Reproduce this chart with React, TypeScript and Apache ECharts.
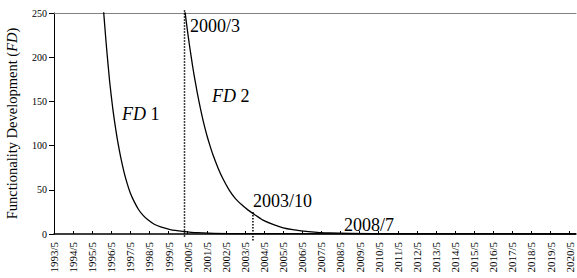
import React, { useEffect, useRef } from "react";
import * as echarts from "echarts";

// x positions are given as "YYYY/M"; the axis counts months from 1993/5
const tickLabels = [
  "1993/5", "1994/5", "1995/5", "1996/5", "1997/5", "1998/5", "1999/5",
  "2000/5", "2001/5", "2002/5", "2003/5", "2004/5", "2005/5", "2006/5",
  "2007/5", "2008/5", "2009/5", "2010/5", "2011/5", "2012/5", "2013/5",
  "2014/5", "2015/5", "2016/5", "2017/5", "2018/5", "2019/5", "2020/5",
];
const axisEnd = "2020/9";

const fd1Dates = [
  "1995/11", "1995/12", "1996/1", "1996/2", "1996/3", "1996/4", "1996/5",
  "1996/6", "1996/7", "1996/8", "1996/9", "1996/11", "1997/1", "1997/3",
  "1997/5", "1997/7", "1997/10", "1998/1", "1998/4", "1998/8", "1998/12",
  "1999/6", "2000/2", "2000/11", "2002/7", "2020/9",
];
const fd1Values = [
  280, 256, 233, 211, 191, 172, 156, 141, 128, 116, 105, 86, 70, 57, 46, 38,
  28, 21, 16, 11, 8, 5, 3, 1.5, 0.5, 0,
];

const fd2Dates = [
  "2000/3", "2000/4", "2000/5", "2000/6", "2000/7", "2000/8", "2000/9",
  "2000/11", "2001/1", "2001/3", "2001/5", "2001/7", "2001/9", "2001/12",
  "2002/3", "2002/7", "2002/11", "2003/3", "2003/7", "2003/11", "2004/4",
  "2004/11", "2005/5", "2005/11", "2006/9", "2007/10", "2010/1", "2020/9",
];
const fd2Values = [
  256, 242, 228, 215, 203, 191, 180, 160, 142, 126, 112, 100, 89, 75, 63, 50,
  40, 33, 27, 22, 16, 10.5, 7, 5, 2.8, 1.2, 0.3, 0,
];

const markerDates = ["2000/3", "2003/10"];
const markerTops = [253, 25];
const markerBottoms = [-3, -9];

const toMonth = (d: string) => {
  const [y, m] = d.split("/").map(Number);
  return (y - 1993) * 12 + (m - 5);
};

const serif = "Liberation Serif, Times New Roman, serif";

export default function App() {
  const ref = useRef<HTMLDivElement>(null);
  useEffect(() => {
    if (!ref.current) return;
    const chart = echarts.init(ref.current, undefined, { renderer: "svg" });
    const maxX = toMonth(axisEnd);
    const curveStyle = { color: "#000", width: 1.3 };
    const dotted = {
      color: "#000",
      width: 1.5,
      type: [1.5, 1.5] as number[],
    };
    const markerSeries = markerDates.map((d, i) => ({
      type: "line",
      data: [
        [toMonth(d), markerTops[i]],
        [toMonth(d), markerBottoms[i]],
      ],
      symbol: "none",
      clip: false,
      lineStyle: dotted,
      z: 3,
    }));
    const txt = (text: string, x: number, y: number, size = 18) => ({
      type: "text",
      left: x,
      top: y,
      style: {
        text,
        fontSize: size,
        fontFamily: serif,
        fill: "#000",
        rich: { i: { fontStyle: "italic", fontSize: size, fontFamily: serif } },
      },
    });
    chart.setOption({
      animation: false,
      backgroundColor: "#fff",
      textStyle: { fontFamily: serif },
      grid: {
        left: 54,
        right: 1,
        top: 13,
        bottom: 44,
        containLabel: false,
        outerBoundsMode: "none",
      },
      xAxis: [
        {
          type: "value",
          min: 0,
          max: maxX,
          interval: 12,
          splitLine: { show: false },
          axisLine: { lineStyle: { color: "#000", width: 1.5 } },
          axisTick: { inside: true, length: 3, lineStyle: { color: "#000" } },
          axisLabel: {
            rotate: 90,
            margin: 8,
            fontSize: 11,
            fontFamily: serif,
            color: "#000",
            showMaxLabel: false,
            formatter: (v: number) =>
              v % 12 === 0 ? tickLabels[v / 12] ?? "" : "",
          },
        },
        {
          type: "value",
          position: "top",
          min: 0,
          max: maxX,
          splitLine: { show: false },
          axisLine: { lineStyle: { color: "#808080", width: 1 } },
          axisTick: { show: false },
          axisLabel: { show: false },
        },
      ],
      yAxis: {
        type: "value",
        min: 0,
        max: 250,
        interval: 50,
        splitLine: { show: false },
        axisLine: { show: true, lineStyle: { color: "#000", width: 1 } },
        axisTick: { show: true, length: 5, lineStyle: { color: "#000" } },
        axisLabel: { fontSize: 10, fontFamily: serif, color: "#000", margin: 7 },
        name: "Functionality Development ({i|FD})",
        nameLocation: "middle",
        nameGap: 35,
        nameTextStyle: {
          fontSize: 14.5,
          fontFamily: serif,
          color: "#000",
          rich: { i: { fontStyle: "italic", fontSize: 14.5, fontFamily: serif } },
        },
      },
      series: [
        {
          type: "line",
          name: "FD 1",
          data: fd1Dates.map((d, i) => [toMonth(d), fd1Values[i]]),
          symbol: "none",
          smooth: 0.2,
          lineStyle: curveStyle,
          z: 4,
        },
        {
          type: "line",
          name: "FD 2",
          data: fd2Dates.map((d, i) => [toMonth(d), fd2Values[i]]),
          symbol: "none",
          smooth: 0.2,
          lineStyle: curveStyle,
          z: 4,
        },
        ...markerSeries,
      ],
      graphic: [
        txt("{i|FD} 1", 122, 105),
        txt("{i|FD} 2", 212, 87),
        txt("2000/3", 190, 17),
        txt("2003/10", 253, 192),
        txt("2008/7", 344, 216),
      ],
    });
    return () => chart.dispose();
  }, []);
  return (
    <div
      ref={ref}
      style={{ position: "fixed", left: 0, top: 0, width: 577, height: 278 }}
    />
  );
}
